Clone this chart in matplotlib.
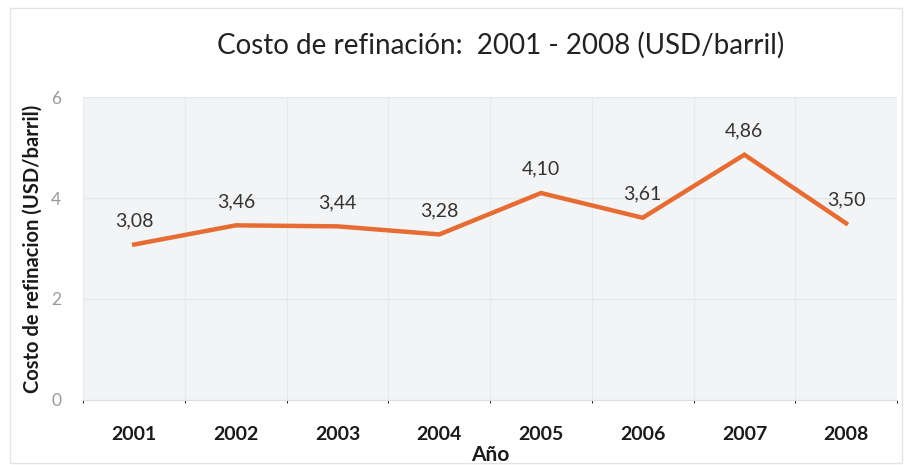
import matplotlib.pyplot as plt
import numpy as np

plt.rcParams['font.family'] = ['Lato', 'DejaVu Sans']

# Costo de refinacion por año (USD/barril)
years = ['2001', '2002', '2003', '2004', '2005', '2006', '2007', '2008']
costs = [3.08, 3.46, 3.44, 3.28, 4.10, 3.61, 4.86, 3.50]
yticks = [0, 2, 4, 6]

fig = plt.figure(figsize=(9.06, 4.65), dpi=100)
fig.patch.set_facecolor('white')

# thin frame around the whole chart
fig.add_artist(plt.Rectangle((0.011, 0.004), 0.985, 0.978, transform=fig.transFigure,
                             fill=False, edgecolor='#e4e4e4', linewidth=1.0))

ax = fig.add_axes([0.092, 0.140, 0.898, 0.651])
ax.set_facecolor('#f3f4f5')

x = np.arange(len(years))
ax.plot(x, costs, color='#e66c33', linewidth=3.2, solid_joinstyle='miter')

for xi, v in zip(x, costs):
    ax.annotate(f'{v:.2f}'.replace('.', ','), (xi, v), xytext=(0, 11),
                textcoords='offset points', ha='center', va='bottom',
                fontsize=14, color='#333333')

ax.set_xlim(-0.5, len(years) - 0.5)
ax.set_ylim(0, 6)
ax.set_yticks(yticks)
ax.set_yticklabels([str(t) for t in yticks], color='#9a9a9a', fontsize=12.5)
ax.set_xticks(x)
ax.set_xticklabels(years, fontsize=14, fontweight='bold', color='#1a1a1a')
ax.tick_params(axis='both', length=0)
ax.tick_params(axis='x', pad=19)
ax.tick_params(axis='y', pad=16)

# faint grid: vertical lines at categories and half steps, horizontal at ticks
ax.set_xticks(np.arange(-0.5, len(years), 0.5), minor=True)
ax.grid(True, which='minor', axis='x', color='#e8e9ea', linewidth=0.8)
ax.grid(True, which='major', axis='y', color='#e6e7e8', linewidth=0.9)
ax.set_axisbelow(True)

for side in ['top', 'right', 'left']:
    ax.spines[side].set_visible(False)
ax.spines['bottom'].set_color('#dedede')

ax.set_ylabel('Costo de refinacion (USD/barril)', fontsize=14.5, fontweight='bold',
              color='#1a1a1a', labelpad=6)
ax.set_xlabel('Año', fontsize=15, fontweight='bold', color='#1a1a1a', labelpad=1)

fig.text(0.553, 0.902, 'Costo de refinación:  2001 - 2008 (USD/barril)', ha='center',
         va='center', fontsize=20, color='#222222')

fig.savefig('out.png', dpi=100)
